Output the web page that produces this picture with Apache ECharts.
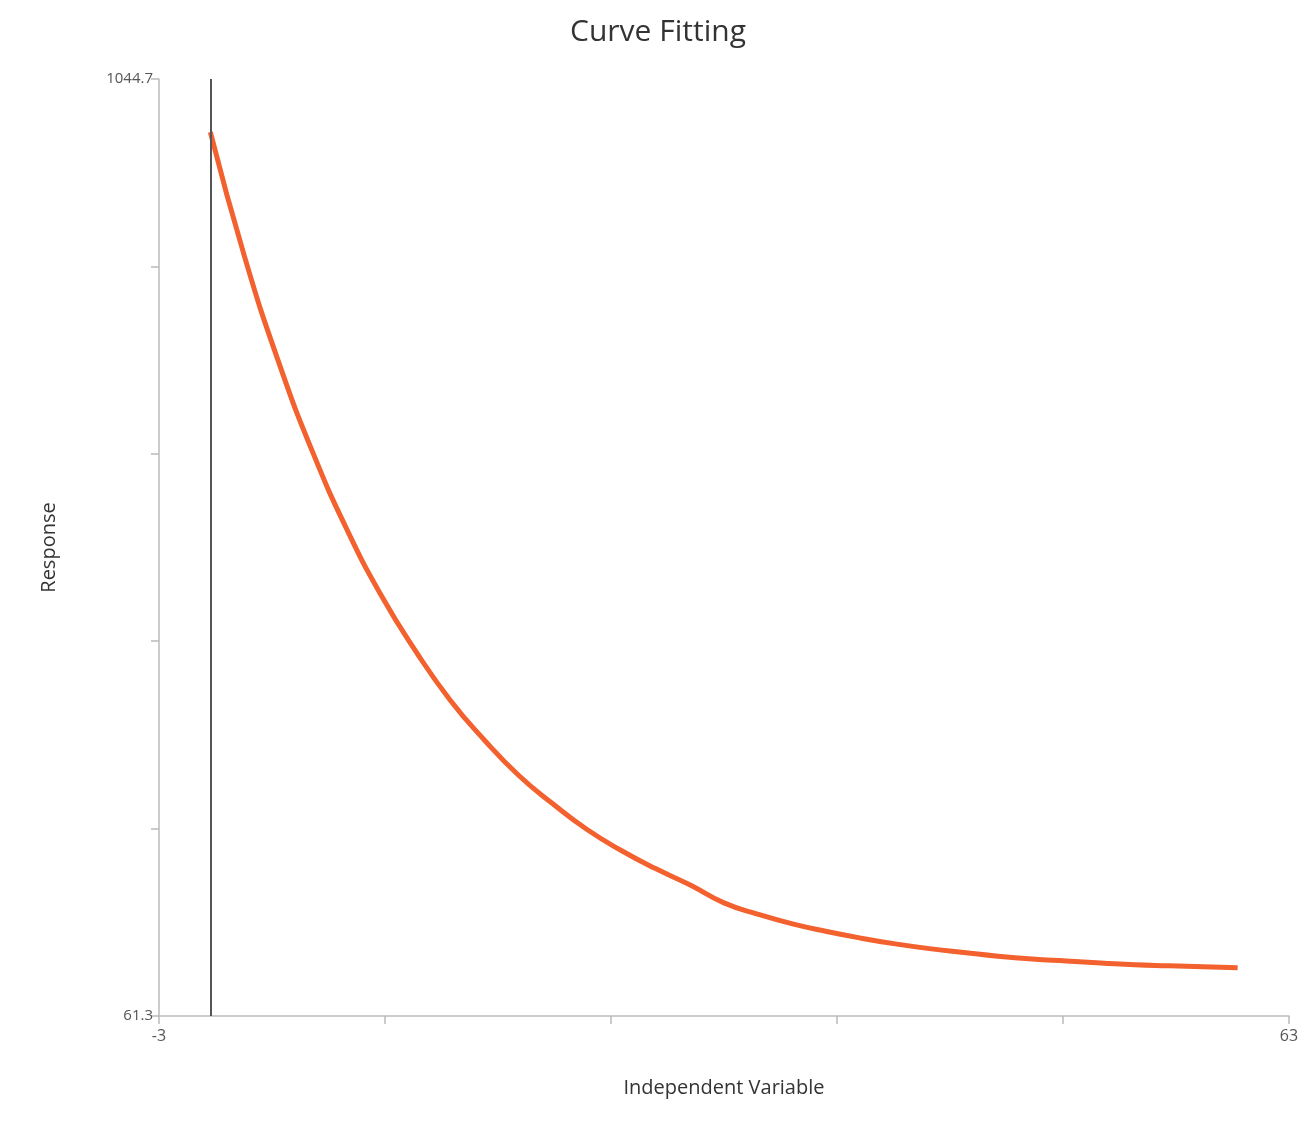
<!DOCTYPE html>
<html><head><meta charset="utf-8">
<script src="https://cdn.jsdelivr.net/npm/echarts@6/dist/echarts.min.js"></script>
<style>html,body{margin:0;padding:0}#c{width:1316px;height:1136px}</style>
</head><body><div id="c"></div>
<script>
const xValues = [0,2,4,6,8,10,12,14,16,18,20,22,24,26,28,30,32,34,36,38,40,42,44,46,48,50,52,54,56,58,60];
const yValues = [989,858,747,652,571,502,444,393,351,314,284,257,235,216,199,180,168,158,150,143,137,132,128,124,121,119,117,115,114,113,112];
const xMin = -3, xMax = 63, yMin = 61.3, yMax = 1044.7;
const refLineX = 0;
const font = "'Open Sans', 'Noto Sans', sans-serif";
const chart = echarts.init(document.getElementById('c'));
const xSpan = xMax - xMin, ySpan = yMax - yMin;
chart.setOption({
  animation:false,
  title:{text:'Curve Fitting',left:'center',top:12,textStyle:{fontFamily:font,fontSize:30,fontWeight:'normal',color:'#333'}},
  grid:{left:159,right:27,top:79,bottom:120},
  xAxis:[
    {type:'value',min:xMin,max:xMax,axisLine:{show:false},axisTick:{show:false},axisLabel:{show:false},splitLine:{show:false},
     name:'Independent Variable',nameLocation:'middle',nameGap:62,nameTextStyle:{fontFamily:font,fontSize:20,color:'#333'}},
    {type:'value',position:'bottom',min:0,max:xSpan,interval:xSpan/5,
     axisLine:{lineStyle:{color:'#bbb',width:1.5}},axisTick:{length:8,lineStyle:{color:'#bbb',width:1.5}},splitLine:{show:false},
     axisLabel:{color:'#555',fontFamily:font,fontSize:16,margin:12,showMaxLabel:true,
       formatter:v=> v<0.01?String(xMin):(v>xSpan-0.01?String(xMax):'')}}
  ],
  yAxis:[
    {type:'value',min:yMin,max:yMax,axisLine:{show:false},axisTick:{show:false},axisLabel:{show:false},splitLine:{show:false},
     name:'Response',nameLocation:'middle',nameGap:100,nameTextStyle:{fontFamily:font,fontSize:20,color:'#333'}},
    {type:'value',position:'left',min:0,max:ySpan,interval:ySpan/5,
     axisLine:{show:true,lineStyle:{color:'#bbb',width:1.5}},axisTick:{show:true,length:8,lineStyle:{color:'#bbb',width:1.5}},splitLine:{show:false},
     axisLabel:{color:'#555',fontFamily:font,fontSize:15,margin:6,showMaxLabel:true,
       formatter:v=> v<0.01?String(yMin):(v>ySpan-0.01?String(yMax):'')}}
  ],
  series:[{
    type:'line',xAxisIndex:0,yAxisIndex:0,smooth:true,symbol:'none',
    data:xValues.map((x,i)=>[x,yValues[i]]),
    lineStyle:{color:'#f2612e',width:5},
    markLine:{silent:true,symbol:'none',label:{show:false},lineStyle:{color:'#555',width:2,type:'solid'},data:[{xAxis:refLineX}]}
  }]
});
</script></body></html>
